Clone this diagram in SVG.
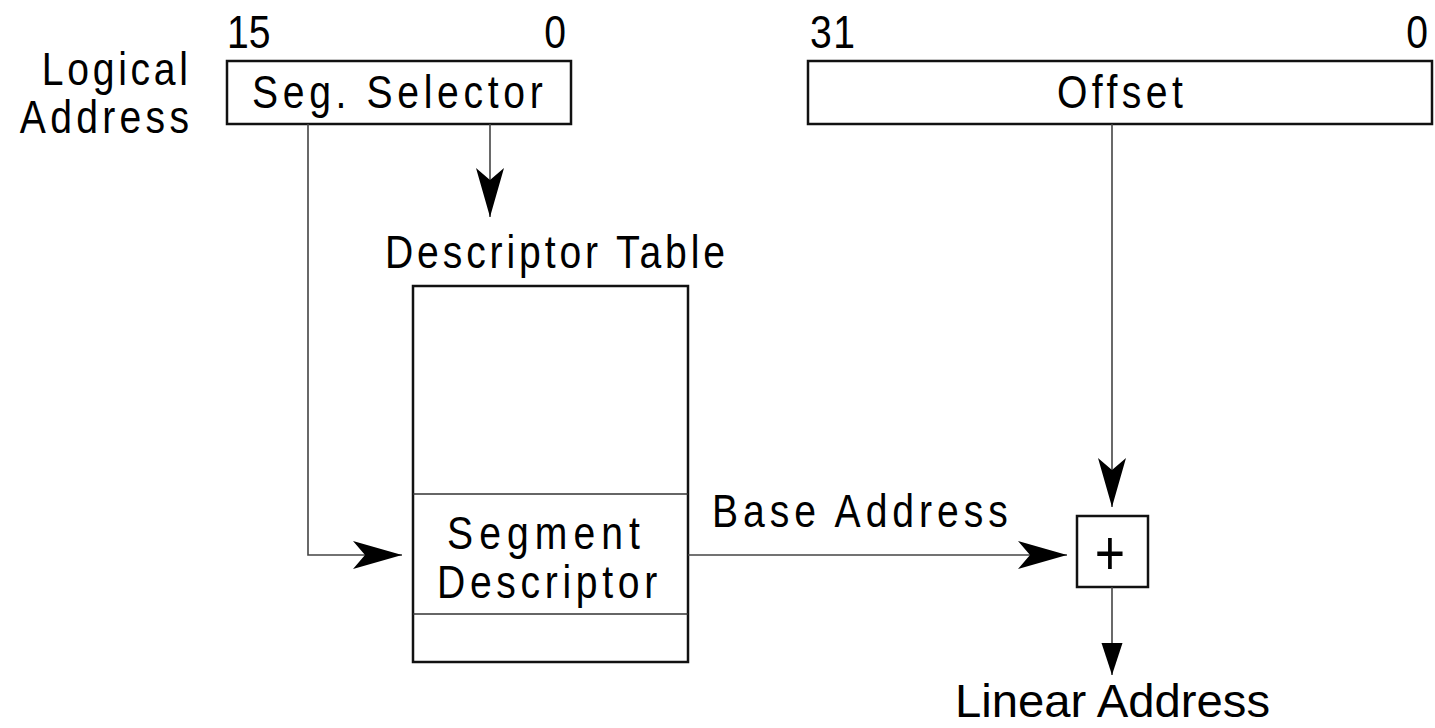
<svg xmlns="http://www.w3.org/2000/svg" width="1435" height="728" viewBox="0 0 1435 728">
  <style>
    .box { fill: #fff; stroke: #111; stroke-width: 2.5; }
    .div { stroke: #333; stroke-width: 1.6; }
    .wire { fill: none; stroke: #444; stroke-width: 1.6; }
    .lbl { font-family: "Liberation Sans", Arial, Helvetica, sans-serif; font-size: 46px; fill: #000; }
    .plain { font-family: "Liberation Sans", Arial, Helvetica, sans-serif; font-size: 47px; fill: #000; }
  </style>
  <defs>
    <!-- barbed arrowhead, tip at the path end -->
    <marker id="barb" markerUnits="userSpaceOnUse" markerWidth="52" markerHeight="32" viewBox="-50 -16 52 32" refX="0" refY="0" orient="auto" overflow="visible">
      <path d="M0,0 L-49,-14 L-37,0 L-49,14 Z" fill="#000"/>
    </marker>
    <!-- plain triangular arrowhead -->
    <marker id="tri" markerUnits="userSpaceOnUse" markerWidth="36" markerHeight="24" viewBox="-34 -12 36 24" refX="0" refY="0" orient="auto" overflow="visible">
      <path d="M0,0 L-32,-10.5 L-32,10.5 Z" fill="#000"/>
    </marker>
  </defs>

  <!-- labels use a horizontally condensed face with open tracking -->
  <g id="logical-address">
    <text class="lbl" transform="translate(188,85) scale(0.85,1)" text-anchor="end" textLength="172" lengthAdjust="spacing">Logical</text>
    <text class="lbl" transform="translate(189,133) scale(0.85,1)" text-anchor="end" textLength="199" lengthAdjust="spacing">Address</text>
  </g>

  <g id="seg-selector">
    <text class="lbl" transform="translate(227,48) scale(0.85,1)">15</text>
    <text class="lbl" transform="translate(566,48) scale(0.85,1)" text-anchor="end">0</text>
    <rect class="box" x="227" y="61" width="344" height="63"/>
    <text class="lbl" transform="translate(252,108) scale(0.85,1)" textLength="342" lengthAdjust="spacing">Seg. Selector</text>
  </g>

  <g id="offset">
    <text class="lbl" transform="translate(810,48) scale(0.85,1)" textLength="53" lengthAdjust="spacing">31</text>
    <text class="lbl" transform="translate(1428,48) scale(0.85,1)" text-anchor="end">0</text>
    <rect class="box" x="808" y="61" width="624" height="63"/>
    <text class="lbl" transform="translate(1057,108) scale(0.85,1)" textLength="148" lengthAdjust="spacing">Offset</text>
  </g>

  <g id="descriptor-table">
    <text class="lbl" transform="translate(385,268) scale(0.85,1)" textLength="400" lengthAdjust="spacing">Descriptor Table</text>
    <rect class="box" x="413" y="286" width="275" height="376"/>
    <line class="div" x1="413" y1="494" x2="688" y2="494"/>
    <line class="div" x1="413" y1="614" x2="688" y2="614"/>
    <text class="lbl" transform="translate(447,549) scale(0.85,1)" textLength="227" lengthAdjust="spacing">Segment</text>
    <text class="lbl" transform="translate(437,598) scale(0.85,1)" textLength="259" lengthAdjust="spacing">Descriptor</text>
  </g>

  <g id="adder">
    <rect class="box" x="1077" y="516" width="71" height="71"/>
    <text class="plain" transform="translate(1110,553) scale(1,1.2)" x="0" y="18" text-anchor="middle" style="font-size:52px">+</text>
  </g>

  <g id="linear-address">
    <text class="plain" x="955" y="717" textLength="315" lengthAdjust="spacingAndGlyphs">Linear Address</text>
  </g>

  <g id="connectors">
    <path class="wire" d="M308,124 V555 H402" marker-end="url(#barb)"/>
    <path class="wire" d="M490,124 V217" marker-end="url(#barb)"/>
    <path class="wire" d="M688,555 H1067" marker-end="url(#barb)"/>
    <path class="wire" d="M1112,124 V507" marker-end="url(#barb)"/>
    <path class="wire" d="M1112,587 V675" marker-end="url(#tri)"/>
    <text class="lbl" transform="translate(712,527) scale(0.85,1)" textLength="348" lengthAdjust="spacing">Base Address</text>
  </g>
</svg>
